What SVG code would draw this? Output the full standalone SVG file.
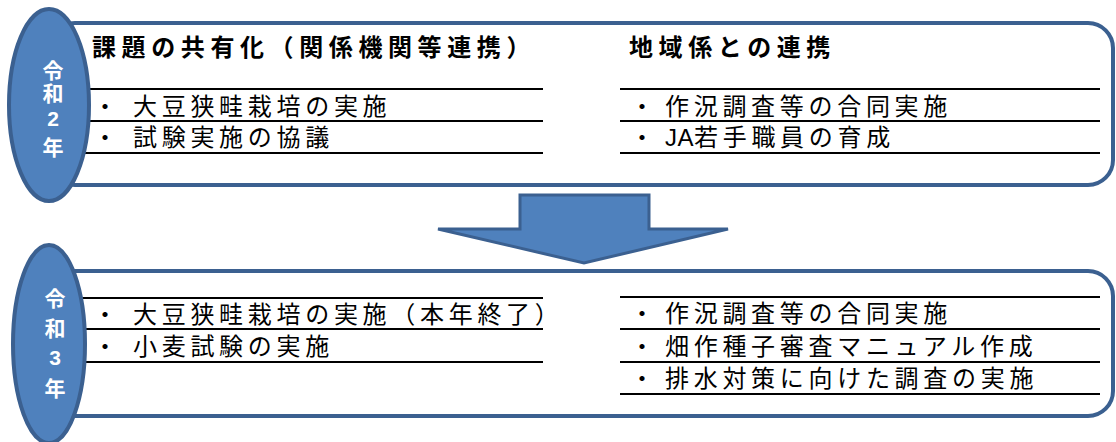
<svg xmlns="http://www.w3.org/2000/svg" width="1116" height="442" viewBox="0 0 1116 442">
<style>
.box{fill:#ffffff;stroke:#3b6090;stroke-width:4}
.oval{fill:#4f81bd;stroke:#3b6090;stroke-width:4}
.arrow{fill:#4f81bd;stroke:#3b6090;stroke-width:3;stroke-linejoin:miter}
.rule{stroke:#000000;stroke-width:2}
.hd{font-family:"Liberation Sans","Noto Sans CJK JP",sans-serif;font-size:24px;font-weight:bold;letter-spacing:5.6px;fill:#000000}
.it{font-family:"Liberation Sans","Noto Sans CJK JP",sans-serif;font-size:24px;letter-spacing:4.7px;fill:#000000}
.yr{font-family:"Liberation Sans","Noto Sans CJK JP",sans-serif;font-size:21px;font-weight:bold;fill:#ffffff;text-anchor:middle}
</style>
<rect width="1116" height="442" fill="#ffffff"/>

<g id="box-r2">
<rect class="box" x="50" y="23" width="1063" height="162" rx="25" ry="25"/>
<line class="rule" x1="80" y1="89" x2="543" y2="89"/>
<line class="rule" x1="80" y1="121" x2="543" y2="121"/>
<line class="rule" x1="80" y1="153" x2="543" y2="153"/>
<line class="rule" x1="620" y1="89" x2="1100" y2="89"/>
<line class="rule" x1="620" y1="121" x2="1100" y2="121"/>
<line class="rule" x1="620" y1="153" x2="1100" y2="153"/>
<text class="hd" x="92" y="56">課題の共有化（関係機関等連携）</text>
<text class="hd" x="629" y="56">地域係との連携</text>
<text class="it" x="93" y="115">・<tspan x="133">大豆狭畦栽培の実施</tspan></text>
<text class="it" x="93" y="146">・<tspan x="133">試験実施の協議</tspan></text>
<text class="it" x="630" y="115">・<tspan x="665">作況調査等の合同実施</tspan></text>
<text class="it" x="630" y="146">・<tspan x="665" letter-spacing="0.5px">JA</tspan>若手職員の育成</text>
</g>

<g id="box-r3">
<rect class="box" x="50" y="271" width="1063" height="145" rx="25" ry="25"/>
<line class="rule" x1="80" y1="298" x2="543" y2="298"/>
<line class="rule" x1="80" y1="329" x2="543" y2="329"/>
<line class="rule" x1="80" y1="362" x2="543" y2="362"/>
<line class="rule" x1="620" y1="297" x2="1100" y2="297"/>
<line class="rule" x1="620" y1="329" x2="1100" y2="329"/>
<line class="rule" x1="620" y1="362" x2="1100" y2="362"/>
<line class="rule" x1="620" y1="394" x2="1100" y2="394"/>
<text class="it" x="93" y="323">・<tspan x="133">大豆狭畦栽培の実施（本年終了）</tspan></text>
<text class="it" x="93" y="355">・<tspan x="133">小麦試験の実施</tspan></text>
<text class="it" x="630" y="322">・<tspan x="665">作況調査等の合同実施</tspan></text>
<text class="it" x="630" y="355">・<tspan x="665">畑作種子審査マニュアル作成</tspan></text>
<text class="it" x="630" y="387">・<tspan x="665">排水対策に向けた調査の実施</tspan></text>
</g>

<g id="connectors">
<polygon class="arrow" points="520,195 649,195 649,229 728,229 584,263 438,229 520,229"/>
</g>

<g id="label-r2">
<ellipse class="oval" cx="49" cy="105" rx="40" ry="96"/>
<text class="yr" x="53" y="78">令</text>
<text class="yr" x="53" y="101">和</text>
<text class="yr" x="53" y="126">2</text>
<text class="yr" x="53" y="155">年</text>
</g>

<g id="label-r3">
<ellipse class="oval" cx="49" cy="344" rx="36" ry="99"/>
<text class="yr" x="55" y="306">令</text>
<text class="yr" x="55" y="336">和</text>
<text class="yr" x="55" y="365">3</text>
<text class="yr" x="55" y="396">年</text>
</g>
</svg>
